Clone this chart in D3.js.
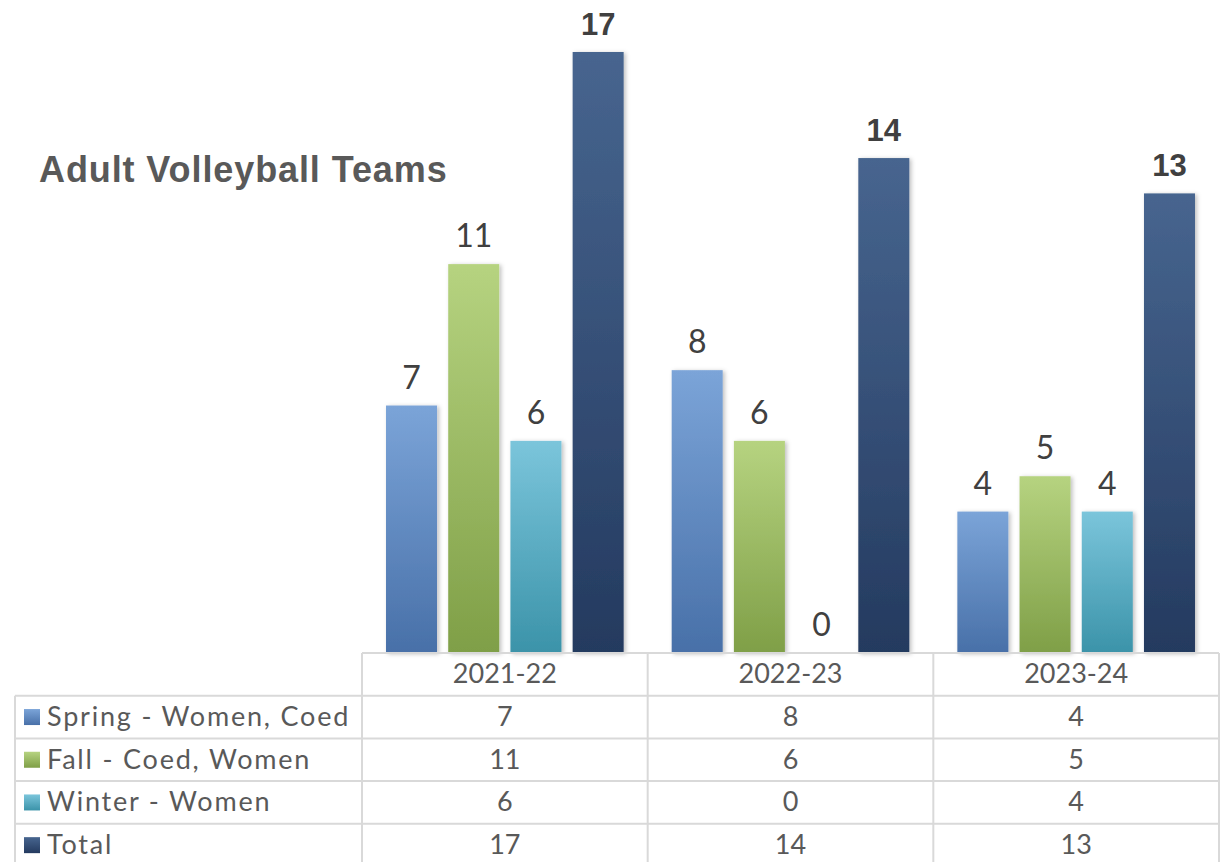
<!DOCTYPE html>
<html><head><meta charset="utf-8">
<script src="https://cdn.jsdelivr.net/npm/d3@7"></script>
<style>
html,body{margin:0;padding:0;background:#fff;}
svg{display:block;}
text{font-family:"Lato","Open Sans",sans-serif;}
</style></head>
<body>
<svg id="chart" width="1226" height="862"></svg>
<script>
const title = "Adult Volleyball Teams";
const years = ["2021-22","2022-23","2023-24"];
const seriesNames = ["Spring - Women, Coed","Fall - Coed, Women","Winter - Women","Total"];
const spring = [7, 8, 4];
const fall = [11, 6, 5];
const winter = [6, 0, 4];
const total = [17, 14, 13];
const seriesValues = [spring, fall, winter, total];
const seriesTop = ["#7ba4d8","#b6d380","#7bc5db","#47658f"];
const seriesBottom = ["#4870a8","#7f9f47","#3b93a9","#243a5f"];

const svg = d3.select("#chart");
const plotLeft = 362, plotRight = 1219, baseY = 653, topY = 52;
const rowH = 42.7;

const defs = svg.append("defs");
seriesNames.forEach((s,i)=>{
  const g = defs.append("linearGradient").attr("id","g"+i).attr("x1",0).attr("y1",0).attr("x2",0).attr("y2",1);
  g.append("stop").attr("offset","0%").attr("stop-color",seriesTop[i]);
  g.append("stop").attr("offset","100%").attr("stop-color",seriesBottom[i]);
});
const f = defs.append("filter").attr("id","sh").attr("x","-20%").attr("y","-5%").attr("width","140%").attr("height","110%");
f.append("feDropShadow").attr("dx",2).attr("dy",1).attr("stdDeviation",2).attr("flood-color","#000").attr("flood-opacity",0.25);

const x0 = d3.scaleBand().domain(years).range([plotLeft, plotRight]).paddingInner(0).paddingOuter(0);
const x1 = d3.scaleBand().domain(seriesNames).range([0, x0.bandwidth()]).paddingInner(0.18).paddingOuter(0.386);
const y = d3.scaleLinear().domain([0,17]).range([baseY, topY]);

// title
svg.append("text").attr("x",39).attr("y",182).attr("fill","#595959")
  .style("font-family","'Liberation Sans',Arial,sans-serif").style("font-weight","bold").style("font-size","36px")
  .style("letter-spacing","0.9px")
  .text(title);

// bars
const groups = svg.append("g").selectAll("g").data(years).join("g")
  .attr("transform", d=>`translate(${x0(d)},0)`);
groups.each(function(yr, yi){
  const g = d3.select(this);
  seriesNames.forEach((s,si)=>{
    const v = seriesValues[si][yi];
    if (v>0) {
      g.append("rect").attr("x",x1(s)).attr("y",y(v)).attr("width",x1.bandwidth()).attr("height",y(0)-y(v))
        .attr("fill",`url(#g${si})`).attr("filter","url(#sh)");
    }
    g.append("text").attr("x",x1(s)+x1.bandwidth()/2).attr("y",y(v)-17)
      .attr("text-anchor","middle").attr("fill","#404040")
      .style("font-weight", si===3 ? "bold" : "normal")
      .style("font-family", si===3 ? "'Liberation Sans',Arial,sans-serif" : null)
      .style("font-size", si===3 ? "31px" : "32px")
      .text(v);
  });
});

// table
const tbl = svg.append("g");
const lineColor = "#d9d9d9";
const tableLeft = 15;
const nRows = seriesNames.length;
const tableBottom = baseY + rowH*(nRows+1);
tbl.append("line").attr("x1",plotLeft).attr("x2",plotRight).attr("y1",baseY).attr("y2",baseY).attr("stroke",lineColor).attr("stroke-width",2);
for(let r=1;r<=nRows;r++){
  tbl.append("line").attr("x1",tableLeft).attr("x2",plotRight).attr("y1",baseY+rowH*r).attr("y2",baseY+rowH*r).attr("stroke",lineColor).attr("stroke-width",2);
}
tbl.append("line").attr("x1",tableLeft).attr("x2",tableLeft).attr("y1",baseY+rowH).attr("y2",tableBottom).attr("stroke",lineColor).attr("stroke-width",2);
years.forEach(yr=>{
  tbl.append("line").attr("x1",x0(yr)).attr("x2",x0(yr)).attr("y1",baseY).attr("y2",tableBottom).attr("stroke",lineColor).attr("stroke-width",2);
});
tbl.append("line").attr("x1",plotRight).attr("x2",plotRight).attr("y1",baseY).attr("y2",tableBottom).attr("stroke",lineColor).attr("stroke-width",2);

years.forEach(yr=>{
  tbl.append("text").attr("x",x0(yr)+x0.bandwidth()/2).attr("y",baseY+rowH/2+9)
    .attr("text-anchor","middle").attr("fill","#595959").style("font-size","27px").text(yr);
});
seriesNames.forEach((s,si)=>{
  const cy = baseY + rowH*(si+1) + rowH/2;
  tbl.append("rect").attr("x",24).attr("y",cy-8).attr("width",16).attr("height",16).attr("fill",`url(#g${si})`);
  tbl.append("text").attr("x",47).attr("y",cy+9).attr("fill","#595959").style("font-size","27px")
    .style("letter-spacing","1.8px").text(s);
  years.forEach((yr,yi)=>{
    tbl.append("text").attr("x",x0(yr)+x0.bandwidth()/2).attr("y",cy+9)
      .attr("text-anchor","middle").attr("fill","#595959").style("font-size","27px").text(seriesValues[si][yi]);
  });
});
</script>
</body></html>
